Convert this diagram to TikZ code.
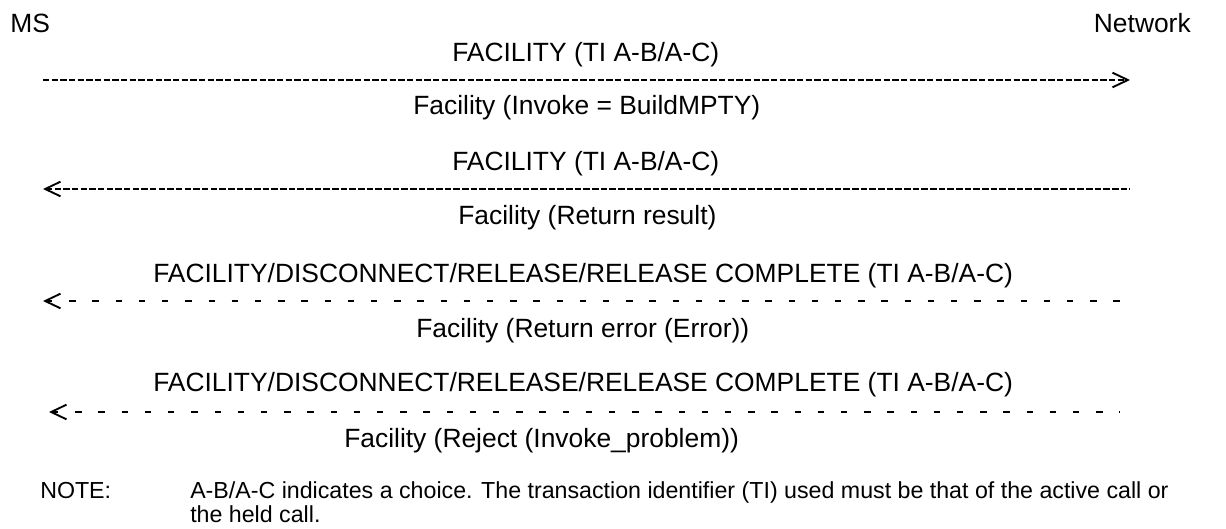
\documentclass[tikz,border=0pt]{standalone}
\usepackage{fontspec}
\setmainfont{Liberation Sans}
\usetikzlibrary{arrows.meta}
\newcommand{\mainsz}{\fontsize{19.8pt}{24pt}\selectfont}
\newcommand{\notesz}{\fontsize{17.4pt}{21pt}\selectfont}
\begin{document}
\begin{tikzpicture}[x=0.75pt,y=-0.75pt,
  lbl/.style={anchor=base west, inner sep=0pt, font=\mainsz},
  notelbl/.style={anchor=base west, inner sep=0pt, font=\notesz},
  chev/.tip={Straight Barb[length=11.5pt,width=11pt,line width=1.4pt]},
  densedash/.style={line width=1.9pt, dash pattern=on 4.8pt off 1.7pt},
  sparsedash/.style={line width=1.9pt, dash pattern=on 4.8pt off 12.6pt}]
\useasboundingbox (0,0) rectangle (1226,528);
% parties
\node[lbl] (ms) at (10,33) {MS};
\node[lbl, anchor=base east] (net) at (1191,33) {Network};
% message 1
\node[lbl] (t1) at (452,61) {FACILITY (TI A-B/A-C)};
\coordinate (a1) at (43,80);
\coordinate (b1) at (1130,80);
\draw[densedash, -chev] (a1) -- (b1);
\node[lbl] (f1) at (413,114) {Facility (Invoke = BuildMPTY)};
% message 2
\node[lbl] (t2) at (452,170) {FACILITY (TI A-B/A-C)};
\coordinate (a2) at (43,189);
\coordinate (b2) at (1130,189);
\draw[densedash, chev-] (a2) -- (b2);
\node[lbl] (f2) at (458,224) {Facility (Return result)};
% message 3
\node[lbl] (t3) at (153,282) {FACILITY/DISCONNECT/RELEASE/RELEASE COMPLETE (TI A-B/A-C)};
\coordinate (a3) at (43,301);
\coordinate (b3) at (1129,301);
\draw[sparsedash, chev-] (a3) -- (b3);
\node[lbl] (f3) at (416,337) {Facility (Return error (Error))};
% message 4
\node[lbl] (t4) at (153,391) {FACILITY/DISCONNECT/RELEASE/RELEASE COMPLETE (TI A-B/A-C)};
\coordinate (a4) at (49,412);
\coordinate (b4) at (1120,412);
\draw[sparsedash, chev-] (a4) -- (b4);
\node[lbl] (f4) at (344,447) {Facility (Reject (Invoke\_problem))};
% note
\node[notelbl] (nl) at (40,498) {NOTE:};
\node[notelbl] (n1) at (190,498) {A-B/A-C indicates a choice. The transaction identifier (TI) used must be that of the active call or};
\node[notelbl] (n2) at (190,522) {the held call.};
\end{tikzpicture}
\end{document}
